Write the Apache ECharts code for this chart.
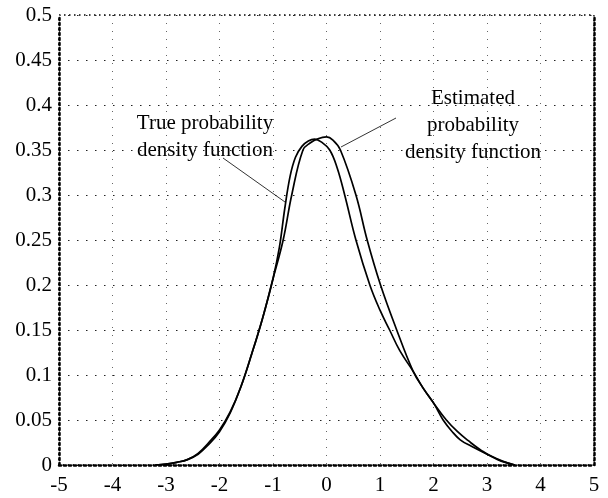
<!DOCTYPE html>
<html>
<head>
<meta charset="utf-8">
<script src="https://cdn.jsdelivr.net/npm/echarts@6/dist/echarts.min.js"></script>
<style>
  html, body { margin: 0; padding: 0; background: #fff; }
  #chart { width: 608px; height: 498px; }
</style>
</head>
<body>
<div id="chart"></div>
<script>
// ticks
var xTicks = [-5, -4, -3, -2, -1, 0, 1, 2, 3, 4, 5];
var yTicks = [0, 0.05, 0.1, 0.15, 0.2, 0.25, 0.3, 0.35, 0.4, 0.45, 0.5];

// true pdf
var trueX = [-3.2, -3.0, -2.8, -2.6, -2.4, -2.2, -2.0, -1.8, -1.6, -1.4, -1.2, -1.0, -0.88, -0.78, -0.68, -0.58, -0.46, -0.34, -0.22, -0.1, 0.06, 0.2, 0.34, 0.55, 0.81, 1.0, 1.18, 1.37, 1.62, 1.8, 2.0, 2.24, 2.45, 2.65, 2.9, 3.2, 3.52];
var trueY = [0, 0.001, 0.003, 0.006, 0.012, 0.023, 0.037, 0.058, 0.087, 0.123, 0.162, 0.207, 0.242, 0.285, 0.321, 0.342, 0.354, 0.36, 0.362, 0.359, 0.35, 0.33, 0.3, 0.25, 0.2, 0.172, 0.15, 0.127, 0.104, 0.086, 0.069, 0.05, 0.037, 0.027, 0.016, 0.006, 0];

// estimated pdf
var estX = [-3.2, -3.0, -2.8, -2.6, -2.4, -2.2, -2.0, -1.8, -1.6, -1.4, -1.2, -1.0, -0.81, -0.65, -0.44, -0.3, -0.16, 0, 0.12, 0.26, 0.55, 0.76, 1.01, 1.3, 1.62, 1.8, 2.0, 2.18, 2.35, 2.5, 2.7, 3.0, 3.3, 3.52];
var estY = [0, 0.001, 0.003, 0.006, 0.013, 0.025, 0.039, 0.059, 0.087, 0.123, 0.162, 0.207, 0.25, 0.3, 0.35, 0.358, 0.3625, 0.3645, 0.361, 0.35, 0.3, 0.25, 0.2, 0.152, 0.104, 0.086, 0.069, 0.05, 0.037, 0.028, 0.021, 0.012, 0.004, 0];

function pairs(xs, ys) {
  var out = [];
  for (var i = 0; i < xs.length; i++) out.push([xs[i], ys[i]]);
  return out;
}

var font = '"Liberation Serif", "Times New Roman", serif';
var frameLine = { color: '#000', width: 2.5, type: [2, 3] };
var chart = echarts.init(document.getElementById('chart'));

chart.setOption({
  animation: false,
  backgroundColor: '#fff',
  grid: {
    left: 59, right: 14, top: 15, bottom: 33,
    show: true,
    borderColor: '#000',
    borderWidth: 1.5,
    borderType: [1.5, 3.5]
  },
  xAxis: {
    type: 'value',
    min: xTicks[0], max: xTicks[xTicks.length - 1], interval: 1,
    axisLine: { show: true, onZero: false, lineStyle: frameLine },
    axisTick: { show: false },
    axisLabel: { color: '#000', fontFamily: font, fontSize: 21, margin: 10 },
    splitLine: { show: true, lineStyle: { color: '#666', width: 1, type: [1, 7] } }
  },
  yAxis: [{
    type: 'value',
    min: yTicks[0], max: yTicks[yTicks.length - 1], interval: 0.05,
    axisLine: { show: true, onZero: false, lineStyle: frameLine },
    axisTick: { show: false },
    axisLabel: { color: '#000', fontFamily: font, fontSize: 21, margin: 7 },
    splitLine: { show: true, lineStyle: { color: '#222', width: 1, type: [1.5, 7.5] } }
  }, {
    // right-hand frame only
    type: 'value',
    position: 'right',
    min: yTicks[0], max: yTicks[yTicks.length - 1], interval: 0.05,
    axisLine: { show: true, onZero: false, lineStyle: frameLine },
    axisTick: { show: false },
    axisLabel: { show: false },
    splitLine: { show: false }
  }],
  series: [{
    name: 'True probability density function',
    type: 'line',
    smooth: 0.4,
    showSymbol: false,
    lineStyle: { color: '#000', width: 1.7 },
    data: pairs(trueX, trueY)
  }, {
    name: 'Estimated probability density function',
    type: 'line',
    smooth: 0.4,
    showSymbol: false,
    lineStyle: { color: '#000', width: 1.7 },
    data: pairs(estX, estY)
  }],
  graphic: [{
    type: 'text',
    x: 205, y: 110,
    style: { text: 'True probability\ndensity function', font: '21px ' + font, fill: '#000', align: 'center', verticalAlign: 'top', lineHeight: 27 }
  }, {
    type: 'text',
    x: 473, y: 85,
    style: { text: 'Estimated\nprobability\ndensity function', font: '21px ' + font, fill: '#000', align: 'center', verticalAlign: 'top', lineHeight: 27 }
  }, {
    type: 'line',
    shape: { x1: 223, y1: 158, x2: 285, y2: 202 },
    style: { stroke: '#000', lineWidth: 0.8 }
  }, {
    type: 'line',
    shape: { x1: 396, y1: 118, x2: 341, y2: 147 },
    style: { stroke: '#000', lineWidth: 0.8 }
  }]
});
</script>
</body>
</html>
